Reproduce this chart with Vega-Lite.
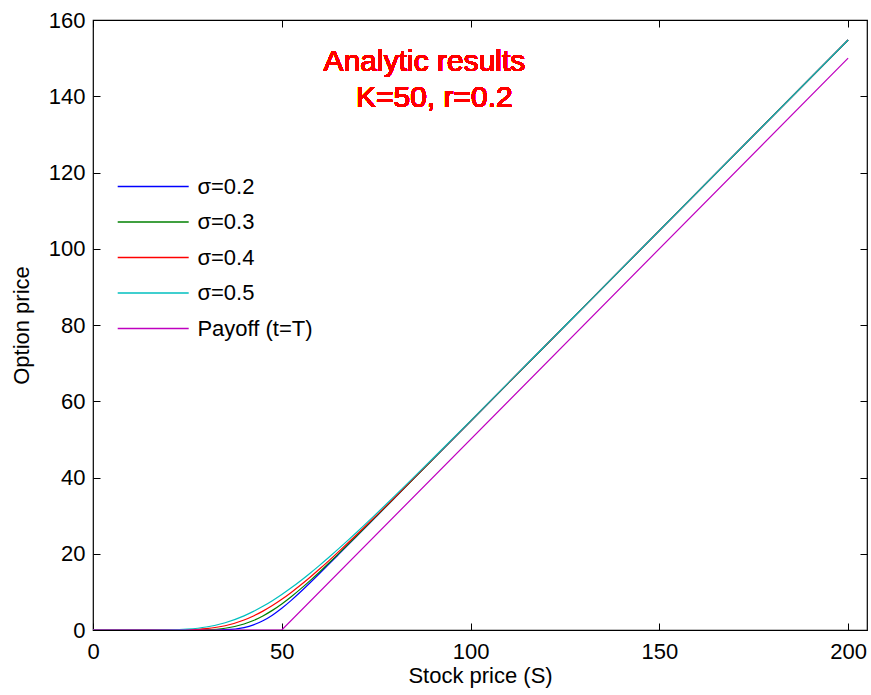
{
  "$schema": "https://vega.github.io/schema/vega-lite/v6.json",
  "width": 774,
  "height": 610,
  "autosize": "none",
  "padding": {"left": 93, "top": 20, "right": 4, "bottom": 65},
  "background": "white",
  "config": {
    "font": "Liberation Sans",
    "view": {"stroke": "#000", "strokeWidth": 1.2},
    "axis": {
      "labelFont": "Liberation Sans", "labelFontSize": 22, "labelColor": "#000", "labelFlush": false,
      "titleFont": "Liberation Sans", "titleFontSize": 22, "titleFontWeight": "normal", "titleColor": "#000",
      "tickColor": "#000", "tickSize": -7, "tickWidth": 1, "domain": false, "grid": false
    },
    "legend": {
      "orient": "none", "legendX": 47.7, "legendY": 154,
      "symbolType": "M-3,0H3", "symbolSize": 560, "symbolStrokeWidth": 1.3,
      "labelFont": "Liberation Sans", "labelFontSize": 22, "labelColor": "#000",
      "labelOffset": 31.7, "rowPadding": 11.5, "padding": 0
    }
  },
  "data": {"values": [
    {"S": 0, "price": 0, "series": "σ=0.2"}, {"S": 10, "price": 0, "series": "σ=0.2"}, {"S": 20, "price": 0, "series": "σ=0.2"},
    {"S": 25, "price": 0, "series": "σ=0.2"}, {"S": 30, "price": 0.003, "series": "σ=0.2"}, {"S": 35, "price": 0.077, "series": "σ=0.2"},
    {"S": 40, "price": 0.636, "series": "σ=0.2"}, {"S": 42.5, "price": 1.339, "series": "σ=0.2"}, {"S": 45, "price": 2.424, "series": "σ=0.2"},
    {"S": 47.5, "price": 3.896, "series": "σ=0.2"}, {"S": 50, "price": 5.706, "series": "σ=0.2"}, {"S": 52.5, "price": 7.776, "series": "σ=0.2"},
    {"S": 55, "price": 10.027, "series": "σ=0.2"}, {"S": 57.5, "price": 12.392, "series": "σ=0.2"}, {"S": 60, "price": 14.821, "series": "σ=0.2"},
    {"S": 62.5, "price": 17.286, "series": "σ=0.2"}, {"S": 65, "price": 19.771, "series": "σ=0.2"}, {"S": 67.5, "price": 22.263, "series": "σ=0.2"},
    {"S": 70, "price": 24.76, "series": "σ=0.2"}, {"S": 75, "price": 29.759, "series": "σ=0.2"}, {"S": 80, "price": 34.758, "series": "σ=0.2"},
    {"S": 85, "price": 39.758, "series": "σ=0.2"}, {"S": 90, "price": 44.758, "series": "σ=0.2"}, {"S": 100, "price": 54.758, "series": "σ=0.2"},
    {"S": 110, "price": 64.758, "series": "σ=0.2"}, {"S": 120, "price": 74.758, "series": "σ=0.2"}, {"S": 130, "price": 84.758, "series": "σ=0.2"},
    {"S": 200, "price": 154.758, "series": "σ=0.2"},

    {"S": 0, "price": 0, "series": "σ=0.3"}, {"S": 10, "price": 0, "series": "σ=0.3"}, {"S": 20, "price": 0, "series": "σ=0.3"},
    {"S": 25, "price": 0.006, "series": "σ=0.3"}, {"S": 30, "price": 0.078, "series": "σ=0.3"}, {"S": 35, "price": 0.462, "series": "σ=0.3"},
    {"S": 40, "price": 1.568, "series": "σ=0.3"}, {"S": 42.5, "price": 2.493, "series": "σ=0.3"}, {"S": 45, "price": 3.691, "series": "σ=0.3"},
    {"S": 47.5, "price": 5.148, "series": "σ=0.3"}, {"S": 50, "price": 6.839, "series": "σ=0.3"}, {"S": 52.5, "price": 8.728, "series": "σ=0.3"},
    {"S": 55, "price": 10.779, "series": "σ=0.3"}, {"S": 57.5, "price": 12.954, "series": "σ=0.3"}, {"S": 60, "price": 15.227, "series": "σ=0.3"},
    {"S": 62.5, "price": 17.571, "series": "σ=0.3"}, {"S": 65, "price": 19.964, "series": "σ=0.3"}, {"S": 67.5, "price": 22.392, "series": "σ=0.3"},
    {"S": 70, "price": 24.845, "series": "σ=0.3"}, {"S": 75, "price": 29.793, "series": "σ=0.3"}, {"S": 80, "price": 34.772, "series": "σ=0.3"},
    {"S": 85, "price": 39.763, "series": "σ=0.3"}, {"S": 90, "price": 44.76, "series": "σ=0.3"}, {"S": 100, "price": 54.758, "series": "σ=0.3"},
    {"S": 110, "price": 64.758, "series": "σ=0.3"}, {"S": 120, "price": 74.758, "series": "σ=0.3"}, {"S": 130, "price": 84.758, "series": "σ=0.3"},
    {"S": 200, "price": 154.758, "series": "σ=0.3"},

    {"S": 0, "price": 0, "series": "σ=0.4"}, {"S": 10, "price": 0, "series": "σ=0.4"}, {"S": 20, "price": 0.005, "series": "σ=0.4"},
    {"S": 25, "price": 0.062, "series": "σ=0.4"}, {"S": 30, "price": 0.337, "series": "σ=0.4"}, {"S": 35, "price": 1.109, "series": "σ=0.4"},
    {"S": 40, "price": 2.617, "series": "σ=0.4"}, {"S": 42.5, "price": 3.683, "series": "σ=0.4"}, {"S": 45, "price": 4.956, "series": "σ=0.4"},
    {"S": 47.5, "price": 6.42, "series": "σ=0.4"}, {"S": 50, "price": 8.064, "series": "σ=0.4"}, {"S": 52.5, "price": 9.863, "series": "σ=0.4"},
    {"S": 55, "price": 11.794, "series": "σ=0.4"}, {"S": 57.5, "price": 13.842, "series": "σ=0.4"}, {"S": 60, "price": 15.983, "series": "σ=0.4"},
    {"S": 62.5, "price": 18.2, "series": "σ=0.4"}, {"S": 65, "price": 20.481, "series": "σ=0.4"}, {"S": 67.5, "price": 22.809, "series": "σ=0.4"},
    {"S": 70, "price": 25.178, "series": "σ=0.4"}, {"S": 75, "price": 29.999, "series": "σ=0.4"}, {"S": 80, "price": 34.896, "series": "σ=0.4"},
    {"S": 85, "price": 39.836, "series": "σ=0.4"}, {"S": 90, "price": 44.803, "series": "σ=0.4"}, {"S": 100, "price": 54.773, "series": "σ=0.4"},
    {"S": 110, "price": 64.763, "series": "σ=0.4"}, {"S": 120, "price": 74.759, "series": "σ=0.4"}, {"S": 130, "price": 84.758, "series": "σ=0.4"},
    {"S": 200, "price": 154.758, "series": "σ=0.4"},

    {"S": 0, "price": 0, "series": "σ=0.5"}, {"S": 10, "price": 0, "series": "σ=0.5"}, {"S": 15, "price": 0.002, "series": "σ=0.5"},
    {"S": 20, "price": 0.039, "series": "σ=0.5"},
    {"S": 25, "price": 0.227, "series": "σ=0.5"}, {"S": 30, "price": 0.782, "series": "σ=0.5"}, {"S": 35, "price": 1.905, "series": "σ=0.5"},
    {"S": 40, "price": 3.716, "series": "σ=0.5"}, {"S": 42.5, "price": 4.881, "series": "σ=0.5"}, {"S": 45, "price": 6.21, "series": "σ=0.5"},
    {"S": 47.5, "price": 7.697, "series": "σ=0.5"}, {"S": 50, "price": 9.323, "series": "σ=0.5"}, {"S": 52.5, "price": 11.077, "series": "σ=0.5"},
    {"S": 55, "price": 12.944, "series": "σ=0.5"}, {"S": 57.5, "price": 14.908, "series": "σ=0.5"}, {"S": 60, "price": 16.959, "series": "σ=0.5"},
    {"S": 62.5, "price": 19.081, "series": "σ=0.5"}, {"S": 65, "price": 21.266, "series": "σ=0.5"}, {"S": 67.5, "price": 23.504, "series": "σ=0.5"},
    {"S": 70, "price": 25.786, "series": "σ=0.5"}, {"S": 75, "price": 30.458, "series": "σ=0.5"}, {"S": 80, "price": 35.234, "series": "σ=0.5"},
    {"S": 85, "price": 40.08, "series": "σ=0.5"}, {"S": 90, "price": 44.977, "series": "σ=0.5"}, {"S": 100, "price": 54.859, "series": "σ=0.5"},
    {"S": 110, "price": 64.805, "series": "σ=0.5"}, {"S": 120, "price": 74.781, "series": "σ=0.5"}, {"S": 130, "price": 84.77, "series": "σ=0.5"},
    {"S": 200, "price": 154.758, "series": "σ=0.5"},

    {"S": 0, "price": 0, "series": "Payoff (t=T)"}, {"S": 50, "price": 0, "series": "Payoff (t=T)"}, {"S": 200, "price": 150, "series": "Payoff (t=T)"}
  ]},
  "resolve": {"axis": {"x": "independent", "y": "independent"}},
  "layer": [
    {
      "transform": [{"filter": "datum.series !== 'Payoff (t=T)'"}],
      "mark": {"type": "line", "interpolate": "monotone", "strokeWidth": 1.2, "clip": true},
      "encoding": {
        "x": {"field": "S", "type": "quantitative", "scale": {"domain": [0, 205], "nice": false, "zero": false},
              "axis": {"orient": "bottom", "values": [0, 50, 100, 150, 200], "labelPadding": 18, "title": "Stock price (S)", "titlePadding": 3}},
        "y": {"field": "price", "type": "quantitative", "scale": {"domain": [0, 160], "nice": false},
              "axis": {"orient": "left", "values": [0, 20, 40, 60, 80, 100, 120, 140, 160], "labelPadding": 15, "title": "Option price", "titlePadding": 15}},
        "color": {"field": "series", "type": "nominal",
                  "scale": {"domain": ["σ=0.2", "σ=0.3", "σ=0.4", "σ=0.5", "Payoff (t=T)"],
                            "range": ["#0000ff", "#008000", "#ff0000", "#00bfbf", "#bf00bf"]},
                  "legend": {"title": null}}
      }
    },
    {
      "transform": [{"filter": "datum.series === 'Payoff (t=T)'"}],
      "mark": {"type": "line", "strokeWidth": 1.2, "clip": true},
      "encoding": {
        "x": {"field": "S", "type": "quantitative",
              "axis": {"orient": "top", "values": [0, 50, 100, 150, 200], "labels": false, "title": null}},
        "y": {"field": "price", "type": "quantitative",
              "axis": {"orient": "right", "values": [0, 20, 40, 60, 80, 100, 120, 140, 160], "labels": false, "title": null}},
        "color": {"field": "series", "type": "nominal"}
      }
    },
    {
      "mark": {"type": "text", "align": "center", "baseline": "alphabetic", "fontSize": 30, "fontWeight": "normal", "fill": "#ff0000", "strokeWidth": 0, "strokeOpacity": 0, "font": "Liberation Sans"},
      "encoding": {
        "x": {"datum": 87.8, "type": "quantitative", "axis": null},
        "y": {"datum": 146.7, "type": "quantitative", "axis": null},
        "text": {"value": "Analytic results"}
      }
    },
    {
      "mark": {"type": "text", "align": "center", "baseline": "alphabetic", "fontSize": 30, "fontWeight": "normal", "fill": "#ff0000", "strokeWidth": 0, "strokeOpacity": 0, "font": "Liberation Sans"},
      "encoding": {
        "x": {"datum": 90.4, "type": "quantitative", "axis": null},
        "y": {"datum": 137.2, "type": "quantitative", "axis": null},
        "text": {"value": "K=50, r=0.2"}
      }
    }
  ]
}
